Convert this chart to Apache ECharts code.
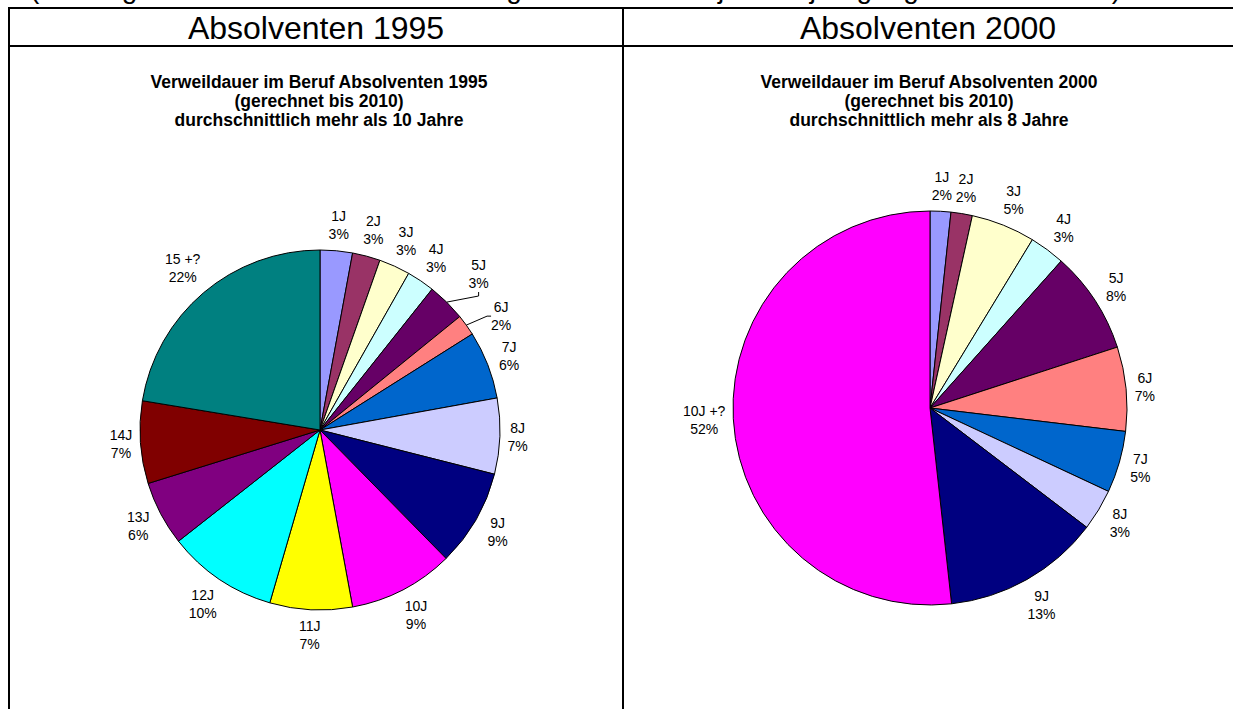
<!DOCTYPE html>
<html>
<head>
<meta charset="utf-8">
<script src="https://cdn.jsdelivr.net/npm/echarts@6/dist/echarts.min.js"></script>
<style>
html,body{margin:0;padding:0;background:#fff;}
#chart{width:1233px;height:709px;}
</style>
</head>
<body>
<div id="chart"></div>
<script>
// ---- data ----
const names1995 = ['1J','2J','3J','4J','5J','6J','7J','8J','9J','10J','11J','12J','13J','14J','15 +?'];
const values1995 = [2.9, 2.5, 2.8, 2.5, 3.45, 1.9, 6.1, 6.8, 8.7, 9.45, 7.4, 9.9, 5.8, 7.4, 22.4];
const colors1995 = ['#9999FF','#993366','#FFFFCC','#CCFFFF','#660066','#FF8080','#0066CC','#CCCCFF','#000080','#FF00FF','#FFFF00','#00FFFF','#800080','#800000','#008080'];

const names2000 = ['1J','2J','3J','4J','5J','6J','7J','8J','9J','10J +?'];
const values2000 = [1.7, 1.75, 5.25, 2.9, 8.4, 6.9, 5.06, 3.4, 12.9, 51.75];
const colors2000 = ['#9999FF','#993366','#FFFFCC','#CCFFFF','#660066','#FF8080','#0066CC','#CCCCFF','#000080','#FF00FF'];

const leaderLines1995 = ['5J','6J'];

const headerTexts = ['Absolventen 1995', 'Absolventen 2000'];
const chartTitles = [
  'Verweildauer im Beruf Absolventen 1995\n(gerechnet bis 2010)\ndurchschnittlich mehr als 10 Jahre',
  'Verweildauer im Beruf Absolventen 2000\n(gerechnet bis 2010)\ndurchschnittlich mehr als 8 Jahre'
];
const topNote = '(Die Angaben wurden aus den Meldungen der Schulen jeweils jahrgangsweise ermittelt)';

// ---- chart ----
const FONT = '"Liberation Sans", Arial, Helvetica, sans-serif';
const chart = echarts.init(document.getElementById('chart'), null, {renderer: 'svg'});

// labels that the original moved away from the slice (they keep a leader line)
const labelNudge = {0: {'5J': [13, -9], '6J': [14, 6]}};

function makeData(names, values, colors, leaders) {
  return names.map((n, i) => {
    const item = {name: n, value: values[i], itemStyle: {color: colors[i]}};
    if (leaders && leaders.indexOf(n) >= 0) {
      item.labelLine = {lineStyle: {opacity: 1, color: '#000', width: 1}};
    }
    return item;
  });
}

function placeLabel(p) {
  const pts = p.labelLinePoints;
  if (!pts) return {};
  const dx = pts[1][0] - pts[0][0], dy = pts[1][1] - pts[0][1];
  const len = Math.hypot(dx, dy) || 1;
  const ux = dx / len, uy = dy / len;
  const w = p.labelRect.width, h = p.labelRect.height;
  const d = 7 + Math.abs(ux) * w / 2 + Math.abs(uy) * h / 2;
  let x = pts[0][0] + ux * d, y = pts[0][1] + uy * d;
  const name = (p.text || '').split('\n')[0];
  const nudge = labelNudge[p.seriesIndex] && labelNudge[p.seriesIndex][name];
  if (nudge) { x += nudge[0]; y += nudge[1]; }
  return {x: x, y: y, align: 'center', verticalAlign: 'middle'};
}

function pieSeries(names, values, colors, leaders, center, radius) {
  return {
    type: 'pie',
    center: center,
    radius: radius,
    startAngle: 90,
    clockwise: true,
    avoidLabelOverlap: false,
    animation: false,
    silent: true,
    itemStyle: {borderColor: '#000', borderWidth: 1},
    label: {
      show: true,
      position: 'outside',
      color: '#000',
      fontFamily: FONT,
      fontSize: 14,
      lineHeight: 18,
      formatter: p => p.name + '\n' + Math.round(p.percent) + '%'
    },
    labelLine: {show: true, length: 10, length2: 4, smooth: false, lineStyle: {opacity: 0, color: '#000', width: 1}},
    labelLayout: placeLabel,
    emphasis: {disabled: true},
    data: makeData(names, values, colors, leaders)
  };
}

function hLine(x1, x2, y) {
  return {type: 'line', silent: true, shape: {x1: x1, y1: y, x2: x2, y2: y}, style: {stroke: '#000', lineWidth: 2}};
}
function vLine(x, y1, y2) {
  return {type: 'line', silent: true, shape: {x1: x, y1: y1, x2: x, y2: y2}, style: {stroke: '#000', lineWidth: 2}};
}
function txt(text, x, y, font, align, valign, lh) {
  return {type: 'text', silent: true,
    style: {text: text, x: x, y: y, font: font, fill: '#000',
      align: align, verticalAlign: valign, textAlign: align, textVerticalAlign: valign,
      lineHeight: lh}};
}

chart.setOption({
  backgroundColor: '#fff',
  animation: false,
  graphic: {elements: [
    hLine(8, 1233, 8),
    hLine(8, 1233, 46),
    vLine(9, 7, 709),
    vLine(623, 7, 709),
    txt(topNote, 30, 2, '28px ' + FONT, 'left', 'bottom'),
    txt(headerTexts[0], 316, 28, '32px ' + FONT, 'center', 'middle'),
    txt(headerTexts[1], 928, 28, '32px ' + FONT, 'center', 'middle'),
    txt(chartTitles[0], 319, 101, 'bold 17.5px ' + FONT, 'center', 'middle', 19),
    txt(chartTitles[1], 929, 101, 'bold 17.5px ' + FONT, 'center', 'middle', 19)
  ]},
  series: [
    pieSeries(names1995, values1995, colors1995, leaderLines1995, [320, 430], 180),
    pieSeries(names2000, values2000, colors2000, null, [930, 408], 197)
  ]
});
</script>
</body>
</html>
